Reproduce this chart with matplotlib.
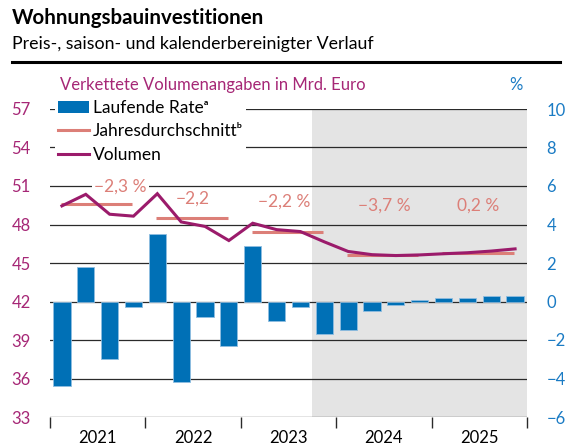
import numpy as np
import matplotlib.pyplot as plt
from matplotlib.patches import Patch
from matplotlib.lines import Line2D

plt.rcParams['font.family'] = ['Lato', 'DejaVu Sans']

years = ['2021', '2022', '2023', '2024', '2025']

# Laufende Rate in % (rechte Achse), quartalsweise 2021Q1 - 2025Q4
rate = [-4.4, 1.8, -3.0, -0.3,
        3.5, -4.2, -0.8, -2.3,
        2.9, -1.0, -0.3, -1.7,
        -1.5, -0.5, -0.2, 0.1,
        0.2, 0.2, 0.3, 0.3]

# Volumen in Mrd. Euro (linke Achse)
volumen = [49.45, 50.35, 48.8, 48.65,
           50.4, 48.2, 47.85, 46.75,
           48.1, 47.6, 47.45, 46.65,
           45.9, 45.65, 45.58, 45.63,
           45.72, 45.8, 45.93, 46.1]

# Jahresdurchschnitt (Niveau) und Veraenderung
jahr_mittel = [49.6, 48.5, 47.45, 45.65, 45.75]
jahr_text = ['\u22122,3 %', '\u22122,2', '\u22122,2 %', '\u22123,7 %', '0,2 %']

blue = '#0070b6'
purple = '#9b1b6b'
salmon = '#dc7f78'
purple_txt = '#a62776'
blue_txt = '#1a7bc4'

n = len(rate)
xq = np.arange(n) + 0.5

fig = plt.figure(figsize=(5.68, 4.48), dpi=100)
ax2 = fig.add_axes([50/568, 31/448, 477/568, 308/448])
ax = ax2.twinx()
ax.set_zorder(ax2.get_zorder() + 1)
ax.patch.set_visible(False)

# Prognosezeitraum
ax2.axvspan(11, 20, color='#e4e4e4', zorder=0, lw=0)

for v in np.arange(-6, 11, 2):
    ax2.axhline(v, color='#2a2a2a', lw=0.9, zorder=0.5)

ax2.bar(xq, rate, width=0.72, color=blue, edgecolor='#8fbde0', lw=0.6, zorder=2)
ax2.set_ylim(-6, 10)
ax2.set_yticks(np.arange(-6, 11, 2))
ax2.set_yticklabels([str(v).replace('-', '\u2212') for v in range(-6, 11, 2)])

ax.plot(xq, volumen, color=purple, lw=2.2, zorder=4, solid_joinstyle='miter')
for i in range(5):
    ax.plot([4*i + 0.45, 4*i + 3.45], [jahr_mittel[i], jahr_mittel[i]],
            color=salmon, lw=2.2, zorder=3, solid_capstyle='butt')

txt_pos = [(2.95, 50.95), (6.0, 50.0), (9.8, 49.8), (14.0, 49.45), (17.95, 49.45)]
for i, (tx, ty) in enumerate(txt_pos):
    bb = None
    if i == 0:
        bb = dict(facecolor='white', edgecolor='none', pad=1.5)
    ax.text(tx, ty, jahr_text[i], color=salmon, fontsize=12.5, ha='center', va='center',
            bbox=bb, zorder=5)

ax.set_ylim(33, 57)
ax.set_yticks(np.arange(33, 58, 3))
ax.set_xlim(0, 20)

# linke Achse links, rechte Achse rechts
ax.yaxis.set_ticks_position('left')
ax2.yaxis.set_ticks_position('right')
ax.yaxis.set_label_position('left')
ax.tick_params(axis='y', length=0, pad=14, labelsize=12, labelcolor=purple_txt)
ax2.tick_params(axis='y', length=0, pad=14, labelsize=12, labelcolor=blue_txt)

ax2.set_xticks(np.arange(0, 21, 4))
ax2.set_xticklabels([])
ax2.set_xticks(np.arange(2, 20, 4), minor=True)
ax2.set_xticklabels(years, minor=True)
ax2.tick_params(axis='x', which='major', length=8, width=1, color='#2a2a2a', direction='out')
ax2.tick_params(axis='x', which='minor', length=0, pad=9, labelsize=12)
ax.tick_params(axis='x', which='both', length=0, labelbottom=False)

for a in (ax, ax2):
    for s in a.spines.values():
        s.set_visible(False)

handles = [Patch(facecolor=blue, edgecolor='none'),
           Line2D([], [], color=salmon, lw=2.2),
           Line2D([], [], color=purple, lw=2.2)]
labels = ['Laufende Rate\u1d43', 'Jahresdurchschnitt\u1d47', 'Volumen']
leg = ax.legend(handles, labels, loc='upper left', bbox_to_anchor=(0.01, 1.04),
                frameon=True, facecolor='white', edgecolor='none', framealpha=1,
                fontsize=12.5, handlelength=1.8, handletextpad=0.2, labelspacing=0.42,
                borderpad=0.2, borderaxespad=0.0, fancybox=False)
leg.set_zorder(10)

fig.text(12/568, 1 - 18/448, 'Wohnungsbauinvestitionen', fontsize=14.8,
         fontweight='bold', va='center', ha='left')
fig.text(12/568, 1 - 44/448, 'Preis-, saison- und kalenderbereinigter Verlauf',
         fontsize=12.8, va='center', ha='left')
fig.add_artist(Line2D([12/568, 560/568], [1 - 62/448, 1 - 62/448], color='black', lw=2.2))
fig.text(60/568, 1 - 85/448, 'Verkettete Volumenangaben in Mrd. Euro', fontsize=12,
         color=purple_txt, va='center', ha='left')
fig.text(516/568, 1 - 85/448, '%', fontsize=12, color=blue_txt, va='center', ha='center')

fig.savefig('out.png', dpi=100)
